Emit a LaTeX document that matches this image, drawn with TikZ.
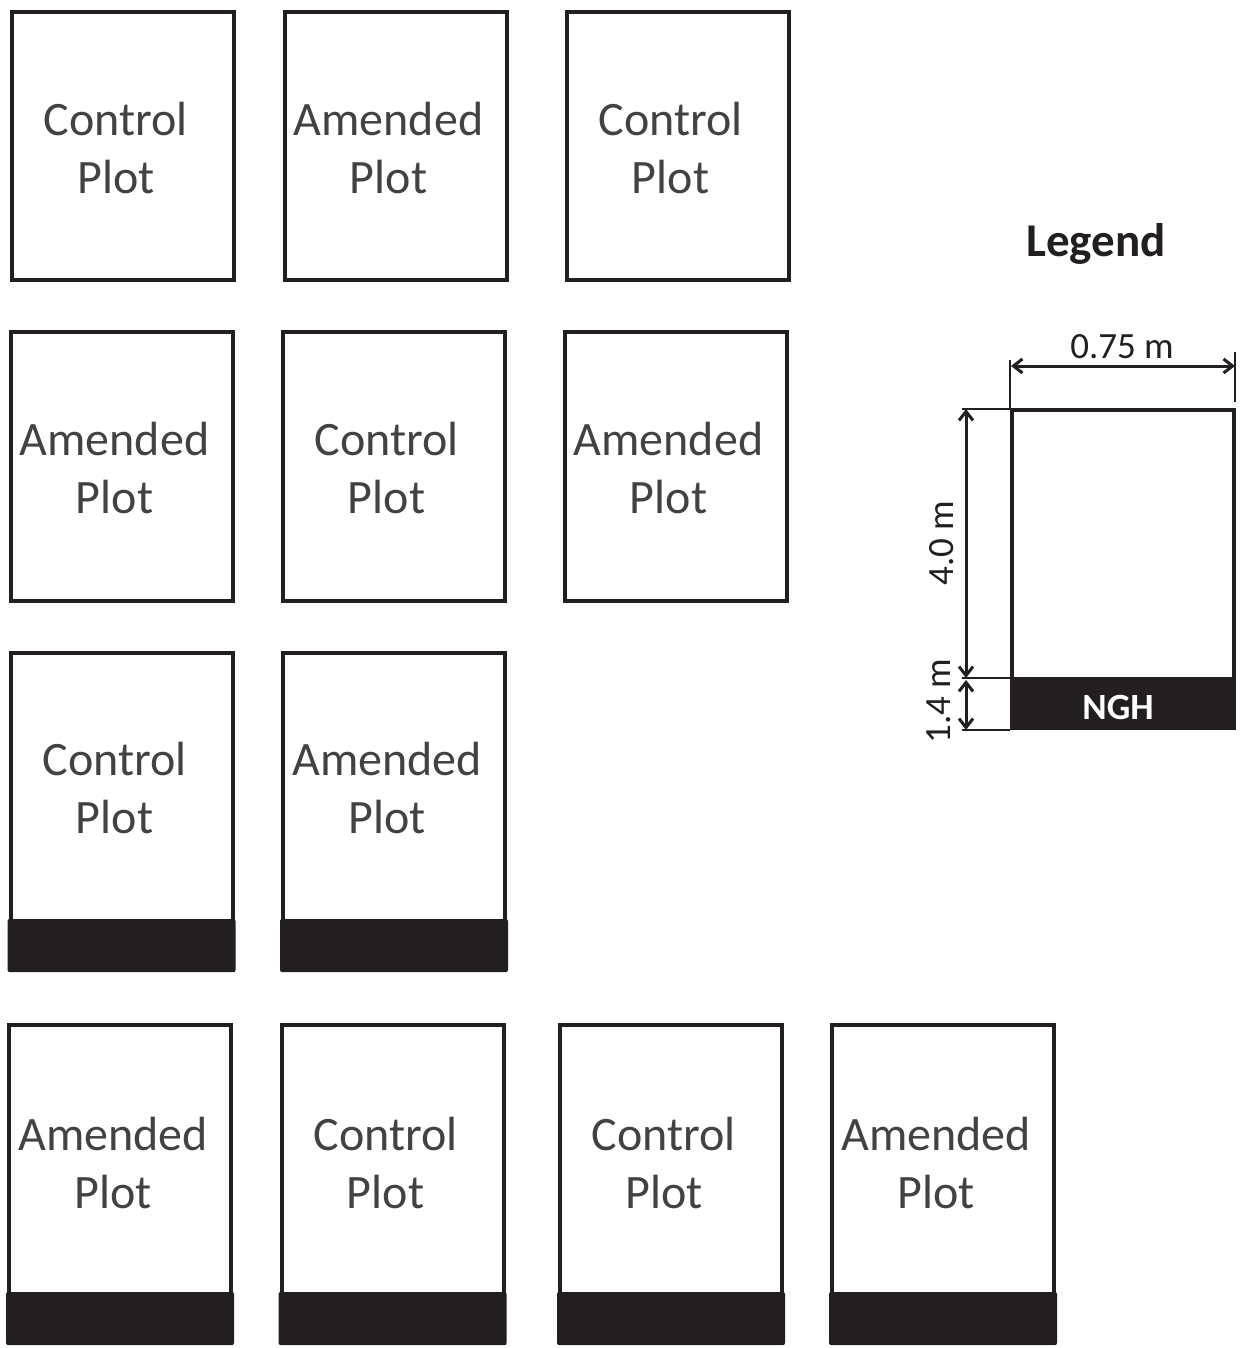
\documentclass[tikz,border=0pt]{standalone}
\usepackage{fontspec}
\setmainfont{Carlito}
\usetikzlibrary{arrows.meta}
\definecolor{ink}{HTML}{231F20}
\tikzset{
  plotbox/.style={draw=ink, line width=4pt, minimum width=222pt, inner sep=0pt, outer sep=0pt},
  plotlabel/.style={text=ink!85, align=center, font=\fontsize{48}{58}\selectfont, inner sep=0pt},
  band/.style={fill=ink, rounded corners=2pt},
  dimline/.style={draw=ink, line width=3pt, {Straight Barb[length=9pt,width=14pt]}-{Straight Barb[length=9pt,width=14pt]}},
  extline/.style={draw=ink, line width=2.5pt},
  dimlabel/.style={text=ink, font=\fontsize{37}{40}\selectfont, inner sep=0pt}
}
\begin{document}
\begin{tikzpicture}[x=1pt, y=-1pt]
\useasboundingbox (0,0) rectangle (1243,1348);
\fill[white] (0,0) rectangle (1243,1348);
% Row 1
\node[plotbox, minimum height=268pt] (p11) at (123,146) {};
\node[plotbox, minimum height=268pt] (p12) at (395.5,146) {};
\node[plotbox, minimum height=268pt] (p13) at (677.5,146) {};
\node[plotlabel] (t11) at ([xshift=-7pt,yshift=-2pt]p11.center) {Control\\Plot};
\node[plotlabel] (t12) at ([xshift=-7pt,yshift=-2pt]p12.center) {Amended\\Plot};
\node[plotlabel] (t13) at ([xshift=-7pt,yshift=-2pt]p13.center) {Control\\Plot};
% Row 2
\node[plotbox, minimum height=269pt] (p21) at (121.5,466.5) {};
\node[plotbox, minimum height=269pt] (p22) at (393.5,466.5) {};
\node[plotbox, minimum height=269pt] (p23) at (675.5,466.5) {};
\node[plotlabel] (t21) at ([xshift=-7pt,yshift=-2pt]p21.center) {Amended\\Plot};
\node[plotlabel] (t22) at ([xshift=-7pt,yshift=-2pt]p22.center) {Control\\Plot};
\node[plotlabel] (t23) at ([xshift=-7pt,yshift=-2pt]p23.center) {Amended\\Plot};
% Row 3
\node[plotbox, minimum height=317pt] (p31) at (121.5,811.5) {};
\node[plotbox, minimum height=317pt] (p32) at (394,811.5) {};
\fill[band] ([xshift=-3pt,yshift=-2pt]p31.south west) rectangle ([xshift=3pt,yshift=51pt]p31.south east);
\fill[band] ([xshift=-3pt,yshift=-2pt]p32.south west) rectangle ([xshift=3pt,yshift=51pt]p32.south east);
\node[plotlabel] (t31) at (114.5,788) {Control\\Plot};
\node[plotlabel] (t32) at (387,788) {Amended\\Plot};
% Row 4
\node[plotbox, minimum height=318pt] (p41) at (120,1184) {};
\node[plotbox, minimum height=318pt] (p42) at (392.5,1184) {};
\node[plotbox, minimum height=318pt] (p43) at (671,1184) {};
\node[plotbox, minimum height=318pt] (p44) at (943,1184) {};
\foreach \p in {p41,p42,p43,p44}{
  \fill[band] ([xshift=-3pt,yshift=-2pt]\p.south west) rectangle ([xshift=3pt,yshift=51pt]\p.south east);
}
\node[plotlabel] (t41) at (113,1163) {Amended\\Plot};
\node[plotlabel] (t42) at (385.5,1163) {Control\\Plot};
\node[plotlabel] (t43) at (664,1163) {Control\\Plot};
\node[plotlabel] (t44) at (936,1163) {Amended\\Plot};
% Legend
\node[text=ink, font=\fontsize{47}{50}\selectfont\bfseries, inner sep=0pt] (leg) at (1096,244) {Legend};
\node[plotbox, minimum height=318pt] (lb) at (1123,569) {};
\fill[band, rounded corners=0pt] ([xshift=-2pt,yshift=-2pt]lb.south west) rectangle ([xshift=2pt,yshift=51pt]lb.south east);
\node[text=white, font=\fontsize{37}{40}\selectfont\bfseries, inner sep=0pt] (ngh) at (1118,707) {NGH};
% dimension extension lines
\coordinate (wl) at (1010,360);
\coordinate (wr) at (1235,352);
\coordinate (wlb) at (1010,408);
\coordinate (wrb) at (1235,402);
\draw[extline] (wl) -- (wlb);
\draw[extline] (wr) -- (wrb);
\coordinate (aw1) at (1011,366);
\coordinate (aw2) at (1235,366);
\draw[dimline] (aw1) -- (aw2);
\node[dimlabel] (w) at (1122,347) {0.75 m};
\coordinate (h0) at (962,409);
\coordinate (e0) at (1010,409);
\coordinate (h1) at (962,678);
\coordinate (h2) at (962,730);
\coordinate (e1) at (1010,678);
\coordinate (e2) at (1010,730);
\draw[extline] (h0) -- (e0);
\draw[extline] (h1) -- (e1);
\draw[extline] (h2) -- (e2);
\coordinate (a1) at (966,409);
\coordinate (a2) at (966,678);
\coordinate (a3) at (966,680);
\coordinate (a4) at (966,730);
\draw[dimline] (a1) -- (a2);
\draw[dimline] (a3) -- (a4);
\node[dimlabel, rotate=90] (hl) at (942,543) {4.0 m};
\node[dimlabel, rotate=90] (bl) at (939,701) {1.4 m};
\end{tikzpicture}
\end{document}
